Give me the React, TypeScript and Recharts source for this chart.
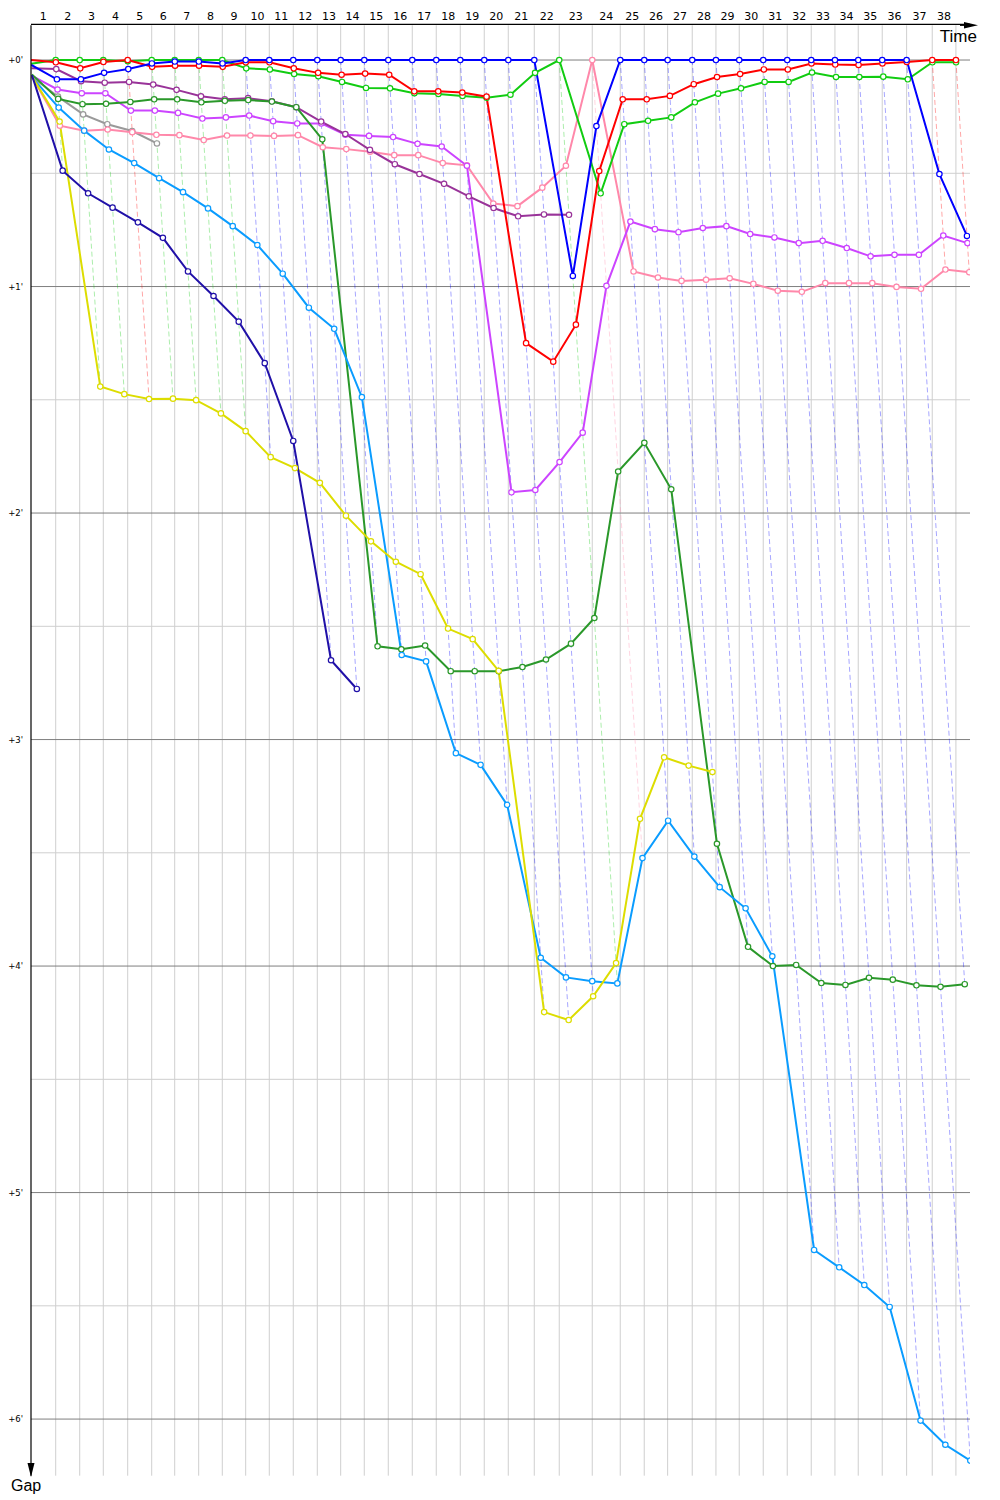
import React from 'react';
import { ComposedChart, Line, XAxis, YAxis, CartesianGrid } from 'recharts';

// leader's race time (s) at the end of laps 1..38
const lapTimes = [
  104.0, 205.1, 304.4, 407.2, 508.2, 605.1, 706.1, 805.5, 904.0, 1003.4,
  1104.4, 1205.5, 1304.0, 1403.4, 1504.4, 1605.5, 1706.5, 1807.6, 1908.6, 2009.7,
  2119.2, 2224.4, 2363.4, 2481.3, 2582.3, 2680.8, 2784.4, 2884.2, 2982.3, 3083.4,
  3184.4, 3285.5, 3385.3, 3483.4, 3584.4, 3687.1, 3795.0, 3894.7,
];

// gap to the leader (s), index = lap, starting at lap 0 (the start)
const blue = [1.3, 5.1, 5.1, 3.4, 2.4, 0.9, 0.4, 0.4, 0.9, 0, 0, 0, 0, 0, 0, 0, 0, 0, 0, 0, 0, 0, 57.2, 17.5, 0, 0, 0, 0, 0, 0, 0, 0, 0, 0, 0, 0, 0, 30.2, 46.6];
const red = [0, 0.6, 2.2, 0.5, 0, 1.8, 1.5, 1.5, 1.8, 0.6, 0.6, 2.2, 3.4, 3.9, 3.6, 3.9, 8.3, 8.3, 8.6, 9.7, 75, 79.9, 70.1, 29.4, 10.4, 10.4, 9.5, 6.4, 4.5, 3.7, 2.5, 2.5, 0.9, 1.2, 1.3, 0.9, 0.5, 0, 0];
const green = [1, 0, 0, 0, 0.3, 0, 0, 0, 0, 2.2, 2.5, 3.7, 4.3, 5.8, 7.4, 7.5, 8.8, 9.0, 9.5, 10.0, 9.2, 3.4, 0, 35.3, 17.0, 16.1, 15.2, 11.2, 8.9, 7.5, 5.8, 5.8, 3.3, 4.5, 4.5, 4.4, 5.1, 0.6, 0.6];
const navy = [4.0, 29.3, 35.3, 39.1, 43, 47.1, 56, 62.5, 69.3, 80.3, 100.9, 159, 166.6];
const yellow = [4.4, 16.3, 86.5, 88.5, 89.8, 89.7, 90.1, 93.6, 98.3, 105.2, 108.1, 112, 120.7, 127.5, 132.9, 136.2, 150.6, 153.4, 161.8, 252.2, 254.3, 248, 239.2, 201, 184.7, 186.9, 188.6];
const cyan = [4.6, 12.6, 18.7, 23.7, 27.3, 31.3, 35, 39.3, 44, 49, 56.6, 65.6, 71.2, 89.3, 157.6, 159.3, 183.6, 186.7, 197.3, 237.8, 243, 244, 244.6, 211.4, 201.5, 211, 219.1, 224.7, 237.4, 315.2, 319.8, 324.5, 330.3, 360.4, 366.8, 371];
const darkGreen = [3.8, 10.3, 11.7, 11.6, 11.1, 10.4, 10.4, 11.2, 10.8, 10.6, 11, 12.5, 21, 155.3, 156.1, 155.1, 161.9, 161.9, 161.9, 160.8, 158.8, 154.6, 147.8, 109, 101.4, 113.7, 207.6, 234.9, 240, 239.7, 244.5, 245, 243.1, 243.6, 245.1, 245.5, 244.8];
const purple = [2.2, 2.4, 5.6, 6, 5.8, 6.5, 7.9, 9.6, 10.4, 10.1, 10.9, 12.5, 16.3, 19.6, 23.8, 27.6, 30.2, 32.8, 36.1, 39.2, 41.4, 40.9, 41];
const magenta = [4.2, 7.8, 8.8, 8.8, 13.4, 13.4, 14, 15.5, 15.2, 14.7, 16.2, 16.8, 16.8, 19.8, 20.1, 20.4, 22.2, 22.9, 28, 114.5, 113.9, 106.5, 98.7, 59.8, 42.8, 44.8, 45.6, 44.5, 44, 46.1, 47, 48.5, 47.9, 49.8, 52, 51.6, 51.6, 46.5, 48.5];
const pink = [4.4, 17.4, 18.7, 18.4, 19.1, 19.8, 19.9, 21.2, 20, 20, 20.1, 19.9, 23.1, 23.6, 24.3, 25.2, 25.2, 27.3, 27.9, 38, 38.7, 33.8, 28, 0, 56, 57.6, 58.5, 58.2, 57.8, 59.3, 61.1, 61.4, 59.1, 59.1, 59.1, 60.1, 60.6, 55.5, 56.2];
const gray = [4.5, 9.7, 14.4, 17, 18.8, 22.1];

// drawing order: last one ends on top
const SERIES = [
  { name: 'gray', color: '#9a9a9a', gaps: gray },
  { name: 'pink', color: '#ff88aa', gaps: pink },
  { name: 'magenta', color: '#cc44ff', gaps: magenta },
  { name: 'purple', color: '#993399', gaps: purple },
  { name: 'darkGreen', color: '#2a982a', gaps: darkGreen },
  { name: 'cyan', color: '#0a9cff', gaps: cyan },
  { name: 'yellow', color: '#dddd00', gaps: yellow },
  { name: 'navy', color: '#2010a8', gaps: navy },
  { name: 'green', color: '#11cc11', gaps: green },
  { name: 'red', color: '#ff0000', gaps: red },
  { name: 'blue', color: '#0000ff', gaps: blue },
];

const minuteTicks = [0, 60, 120, 180, 240, 300, 360];
const halfTicks = [30, 90, 150, 210, 270, 330];
const X_MAX = 3954;
const Y_DOMAIN: [number, number] = [-9.2, 375];

const leaderTime = (lap: number) => (lap === 0 ? 0 : lapTimes[lap - 1]);

// a driver finishes lap n at leader time + gap
const toPoints = (gaps: number[]) => gaps.map((g, lap) => ({ lap, x: leaderTime(lap) + g, y: g }));

const lapMids = lapTimes.map((t, i) => ((i === 0 ? 0 : lapTimes[i - 1]) + t) / 2);

// dashed lap lines: from the leader down to the last car on that lap
const lapLines = lapTimes.map((t, i) => {
  const lap = i + 1;
  let leader = SERIES[0];
  let best = Infinity;
  let worst = 0;
  SERIES.forEach(s => {
    const g = s.gaps[lap];
    if (g === undefined) return;
    if (g < best) { best = g; leader = s; }
    if (g > worst) worst = g;
  });
  return { lap, color: leader.color, data: [{ x: t, y: 0 }, { x: t + worst, y: worst }] };
});

const makeDot = (color: string) => (props: any) => {
  const { cx, cy, payload, index } = props;
  if (!payload || payload.lap === 0) return <g key={`e-${index}`} />;
  return <circle key={`d-${index}`} cx={cx} cy={cy} r={2.7} fill="#fff" stroke={color} strokeWidth={1.2} />;
};

const NoTick = () => <g />;

export default function App() {
  return (
    <div style={{ position: 'absolute', left: 0, top: 0, width: 1000, height: 1500, background: '#fff' }}>
      <ComposedChart width={1000} height={1500} margin={{ top: 23.3, right: 30, bottom: 24.3, left: 29 }}>
        <XAxis xAxisId="lap" type="number" dataKey="x" domain={[0, X_MAX]} allowDataOverflow orientation="top" height={1}
          ticks={lapMids} interval={0} tickLine={false} tickSize={0} tickMargin={4}
          tickFormatter={(_v: number, i: number) => String(i + 1)}
          tick={{ fontSize: 11, fill: '#000', fontFamily: 'DejaVu Sans' }}
          axisLine={{ stroke: '#000', strokeWidth: 1.2 }} />
        <XAxis type="number" dataKey="x" domain={[0, X_MAX]} allowDataOverflow orientation="top" height={1}
          ticks={lapTimes} interval={0} tick={NoTick} tickLine={false} axisLine={false} />
        <YAxis type="number" dataKey="y" domain={Y_DOMAIN} allowDataOverflow reversed width={1}
          ticks={minuteTicks} interval={0} tickLine={false}
          tickFormatter={(v: number) => `+${v / 60}'`}
          tick={{ fontSize: 8.5, fill: '#000', fontFamily: 'DejaVu Sans' }}
          axisLine={{ stroke: '#000', strokeWidth: 1.2 }} />
        <YAxis yAxisId="half" type="number" domain={Y_DOMAIN} allowDataOverflow reversed width={1}
          ticks={halfTicks} interval={0} tick={NoTick} tickLine={false} axisLine={false} />
        <CartesianGrid yAxisId="half" stroke="#cfcfcf" strokeWidth={1} syncWithTicks />
        <CartesianGrid vertical={false} stroke="#7f7f7f" strokeWidth={1} syncWithTicks />
        {lapLines.map(l => (
          <Line key={`lap-${l.lap}`} data={l.data} dataKey="y" type="linear" stroke={l.color}
            strokeOpacity={0.35} strokeWidth={1} strokeDasharray="5 3" dot={false} activeDot={false}
            isAnimationActive={false} />
        ))}
        {SERIES.map(s => (
          <Line key={s.name} name={s.name} data={toPoints(s.gaps)} dataKey="y" type="linear" stroke={s.color}
            strokeWidth={2} dot={makeDot(s.color)} activeDot={false} isAnimationActive={false} />
        ))}
      </ComposedChart>
      <svg width={1000} height={1500} style={{ position: 'absolute', left: 0, top: 0, pointerEvents: 'none' }}>
        <line x1={960} y1={25.3} x2={970} y2={25.3} stroke="#000" strokeWidth={1.2} />
        <polygon points="964,22 978,25.3 964,28.6" fill="#000" />
        <polygon points="27.5,1463 31,1477 34.5,1463" fill="#000" />
        <text x={977} y={42} textAnchor="end" fontSize={17} fontFamily="Liberation Sans" fill="#000">Time</text>
        <text x={11} y={1491} fontSize={16} fontFamily="Liberation Sans" fill="#000">Gap</text>
      </svg>
    </div>
  );
}
